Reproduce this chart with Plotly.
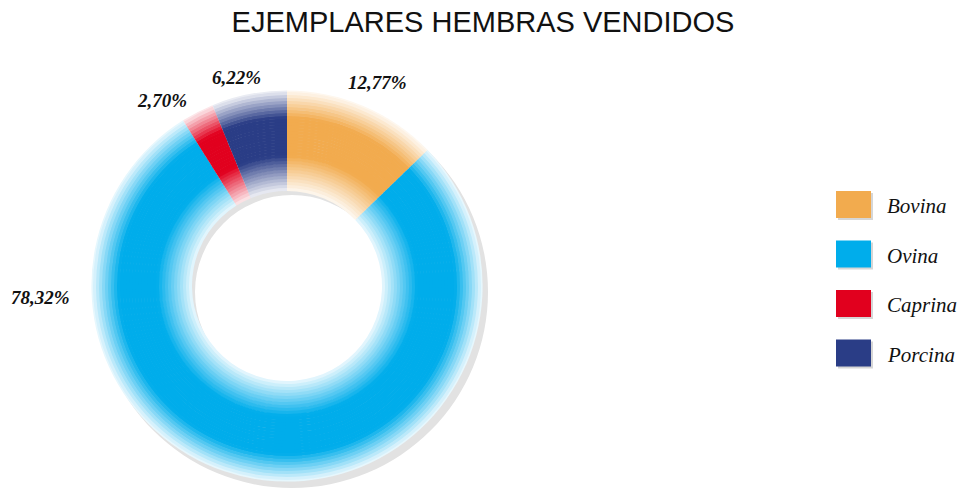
import plotly.graph_objects as go

# ---- data ----
categories = ["Bovina", "Ovina", "Caprina", "Porcina"]
values = [12.77, 78.32, 2.70, 6.22]
colors = ["#F2AB4E", "#00ADEB", "#E1001E", "#2A3D86"]
title_text = "EJEMPLARES HEMBRAS VENDIDOS"

# ---- layout constants (pixels) ----
W, H = 961, 489
CX, CY = 287, 489 - 286   # centre (CY from bottom)
R_OUT, R_IN = 195, 95

def hex2rgb(h):
    h = h.lstrip("#")
    return tuple(int(h[i:i + 2], 16) for i in (0, 2, 4))

def mix(h, f):
    r, g, b = hex2rgb(h)
    return "rgb(%d,%d,%d)" % (round(255 + (r - 255) * f), round(255 + (g - 255) * f), round(255 + (b - 255) * f))

def dom(R, cx=CX, cy=CY):
    return dict(x=[(cx - R) / W, (cx + R) / W], y=[(cy - R) / H, (cy + R) / H])

fig = go.Figure()

# shadow
fig.add_trace(go.Pie(values=[1], labels=["s"], domain=dom(R_OUT + 1, CX + 5, CY - 6), hole=(R_IN + 2) / (R_OUT + 1),
                     marker=dict(colors=["#e2e2e2"], line=dict(width=0)), textinfo="none",
                     hoverinfo="skip", showlegend=False, sort=False))

# gradient bands
def strength(r):
    if r >= 168:
        return 1 - 0.92 * (r - 168) / (R_OUT - 168)
    if r <= 130:
        return 1 - 0.92 * (130 - r) / (130 - R_IN)
    return 1.0

step = 3
r = R_IN
while r < R_OUT:
    r2 = min(r + step, R_OUT)
    f = max(0.08, strength((r + r2) / 2))
    fig.add_trace(go.Pie(
        labels=categories, values=values, sort=False, direction="clockwise", rotation=0,
        domain=dom(r2 + 0.6), hole=r / (r2 + 0.6),
        marker=dict(colors=[mix(c, f) for c in colors], line=dict(width=0)),
        textinfo="none", hoverinfo="label+percent", showlegend=False))
    r = r2

# percent labels (same order as categories)
label_pos = [(377, 82), (40, 297), (162, 100), (236, 77)]
for v, (x, y) in zip(values, label_pos):
    fig.add_annotation(x=x / W, y=1 - y / H, xref="paper", yref="paper", showarrow=False,
                       xanchor="center", yanchor="middle",
                       text="<b><i>%s%%</i></b>" % ("%.2f" % v).replace(".", ","),
                       font=dict(family="Liberation Serif", size=19, color="#111111"))

# legend
for i, (cat, c) in enumerate(zip(categories, colors)):
    y0 = 191 + i * 49.5
    fig.add_shape(type="rect", xref="paper", yref="paper", x0=838 / W, x1=873 / W,
                  y0=1 - (y0 + 29) / H, y1=1 - (y0 + 2) / H, fillcolor="#d6d6d6", line=dict(width=0))
    fig.add_shape(type="rect", xref="paper", yref="paper", x0=836 / W, x1=871 / W,
                  y0=1 - (y0 + 27) / H, y1=1 - y0 / H, fillcolor=c, line=dict(width=0))
    fig.add_annotation(x=885 / W, y=1 - (y0 + 15) / H, xref="paper", yref="paper", showarrow=False,
                       xanchor="left", yanchor="middle", text="<i>%s</i>" % cat,
                       font=dict(family="Liberation Serif", size=21, color="#111111"))

fig.update_layout(
    width=W, height=H, margin=dict(l=0, r=0, t=0, b=0),
    paper_bgcolor="white", plot_bgcolor="white", showlegend=False,
    title=dict(text=title_text, x=483 / W, xanchor="center", y=1 - 22 / H, yanchor="middle",
               font=dict(family="Liberation Sans", size=29, color="#111111")),
)

fig.write_html("out.html", config={"displayModeBar": False},
               post_script="document.body.style.margin='0px';document.body.style.overflow='hidden';")
